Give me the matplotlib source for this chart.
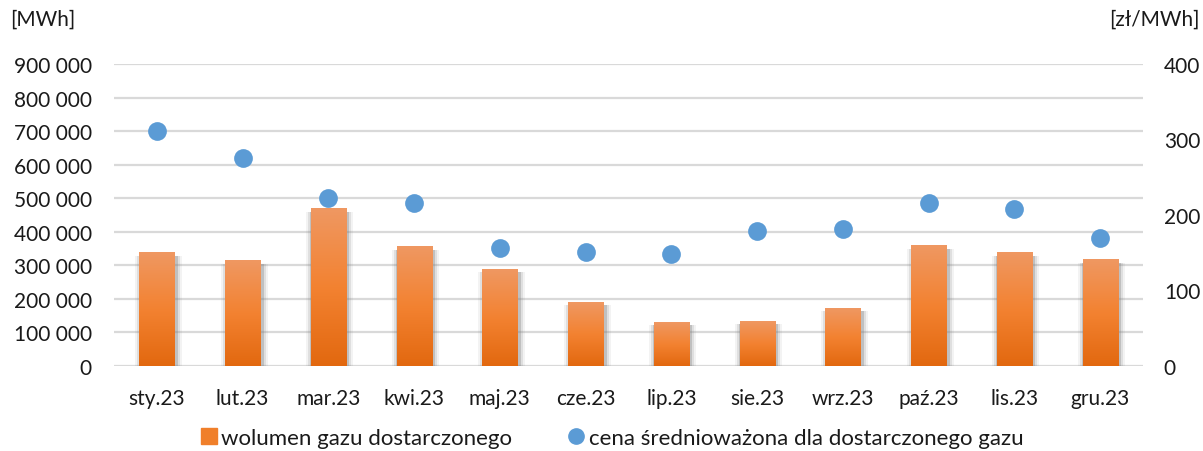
import numpy as np
import matplotlib.pyplot as plt
from matplotlib.colors import LinearSegmentedColormap
from matplotlib.patches import Rectangle
from matplotlib.lines import Line2D
from matplotlib.ticker import FuncFormatter

plt.rcParams['font.family'] = ['Lato', 'DejaVu Sans']

months = ["sty.23", "lut.23", "mar.23", "kwi.23", "maj.23", "cze.23",
          "lip.23", "sie.23", "wrz.23", "paź.23", "lis.23", "gru.23"]
volume = [337000, 313000, 468000, 355000, 289000, 190000,
          130000, 133000, 172000, 358000, 337000, 316000]
price = [311, 275, 223, 216, 156, 151, 148, 179, 181, 216, 208, 170]

label_volume = "wolumen gazu dostarczonego"
label_price = "cena średnioważona dla dostarczonego gazu"

grid_col = "#D9D9D9"
txt_col = "#1A1A1A"
dot_col = "#5B9BD5"
bar_cmap = LinearSegmentedColormap.from_list(
    "bar", ["#E2680F", "#F38231", "#EF9862"])

fig = plt.figure(figsize=(12.03, 4.52), dpi=100)
ax = fig.add_axes([114 / 1203, 1 - 367 / 452, (1143 - 114) / 1203, (367 - 65) / 452])
ax2 = ax.twinx()

x = np.arange(len(months))
width = 0.41
px = 1 / 85.75        # one pixel in x data units
py = 900000 / 302     # one pixel in y data units

# soft grey shadow behind bars, a bit offset to the right and down
for i, v in enumerate(volume):
    for k, a in [(6, 0.09), (4, 0.17), (2, 0.32)]:
        ax.add_patch(Rectangle((x[i] - width / 2 - k * px + 1.5 * px, -k * py),
                               width + 2 * k * px, v + k * py - 3 * py,
                               facecolor="#7F7F7F", alpha=a, edgecolor="none", zorder=2))

# gradient bars
grad = np.linspace(0, 1, 256).reshape(-1, 1)
for i, v in enumerate(volume):
    ax.imshow(grad, cmap=bar_cmap, origin="lower", aspect="auto",
              extent=[x[i] - width / 2, x[i] + width / 2, 0, v], zorder=3)

ax.set_xlim(-0.5, len(months) - 0.5)
ax.set_ylim(0, 900000)
ax.set_yticks(np.arange(0, 900001, 100000))
ax.yaxis.set_major_formatter(FuncFormatter(lambda v, p: "{:,.0f}".format(v).replace(",", " ")))
ax.set_xticks(x)
ax.set_xticklabels(months)
ax.grid(axis="y", color=grid_col, linewidth=1.6, zorder=0)
ax.set_axisbelow(True)

ax2.plot(x, price, linestyle="none", marker="o", markersize=13.5,
         color=dot_col, markeredgewidth=0, zorder=5)
ax2.set_ylim(0, 400)
ax2.set_yticks([0, 100, 200, 300, 400])

for a in (ax, ax2):
    for s in a.spines.values():
        s.set_visible(False)
    a.tick_params(length=0, labelsize=15, labelcolor=txt_col)
ax.tick_params(axis="y", pad=16)
ax.tick_params(axis="x", pad=16)
ax2.tick_params(axis="y", pad=15)

fig.text(10 / 1203, 1 - 20 / 452, "[MWh]", fontsize=15, color=txt_col, va="center", ha="left")
fig.text(1200 / 1203, 1 - 20 / 452, "[zł/MWh]", fontsize=15, color=txt_col, va="center", ha="right")

handles = [Line2D([], [], linestyle="none", marker="s", markersize=11, color="#F07F2A"),
           Line2D([], [], linestyle="none", marker="o", markersize=11, color=dot_col)]
fig.legend(handles, [label_volume, label_price], loc="center", ncol=2,
           bbox_to_anchor=(611 / 1203, 1 - 439 / 452), frameon=False, fontsize=16,
           handletextpad=0.1, columnspacing=2.45, handlelength=0.9, labelcolor=txt_col,
           borderpad=0.0)

fig.savefig("out.png", dpi=100)
